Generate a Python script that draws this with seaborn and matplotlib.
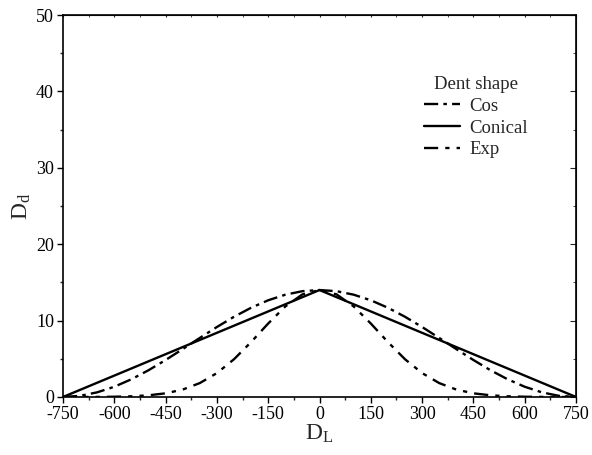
import numpy as np
import pandas as pd
import matplotlib
matplotlib.use("Agg")
import matplotlib.pyplot as plt
import seaborn as sns
from matplotlib.ticker import MultipleLocator

# ---- data ----
x_cos = [-750, -700, -650, -600, -550, -500, -450, -400, -350, -300, -250, -200, -150, -100, -50, 0,
         50, 100, 150, 200, 250, 300, 350, 400, 450, 500, 550, 600, 650, 700, 750]
y_cos = [0.0, 0.15, 0.61, 1.34, 2.32, 3.5, 4.84, 6.27, 7.73, 9.16, 10.5, 11.68, 12.66, 13.39, 13.85, 14.0,
         13.85, 13.39, 12.66, 11.68, 10.5, 9.16, 7.73, 6.27, 4.84, 3.5, 2.32, 1.34, 0.61, 0.15, 0.0]
x_con = [-750, 0, 750]
y_con = [0.0, 14.0, 0.0]
x_exp = x_cos
y_exp = [0.0, 0.0, 0.01, 0.035, 0.09, 0.22, 0.48, 0.97, 1.82, 3.13, 4.94, 7.19, 9.62, 11.85, 13.43, 14.0,
         13.43, 11.85, 9.62, 7.19, 4.94, 3.13, 1.82, 0.97, 0.48, 0.22, 0.09, 0.035, 0.01, 0.0, 0.0]
series_names = ["Cos", "Conical", "Exp"]
x_ticks = [-750, -600, -450, -300, -150, 0, 150, 300, 450, 600, 750]
y_ticks = [0, 10, 20, 30, 40, 50]

df = pd.concat([
    pd.DataFrame({"DL": x_cos, "Dd": y_cos, "shape": series_names[0]}),
    pd.DataFrame({"DL": x_con, "Dd": y_con, "shape": series_names[1]}),
    pd.DataFrame({"DL": x_exp, "Dd": y_exp, "shape": series_names[2]}),
])

sns.set_style("ticks")
plt.rcParams["font.family"] = ["Liberation Serif", "DejaVu Serif"]
plt.rcParams["mathtext.fontset"] = "custom"
plt.rcParams["mathtext.rm"] = "Liberation Serif"
plt.rcParams["mathtext.it"] = "Liberation Serif:italic"
plt.rcParams["axes.unicode_minus"] = False

fig = plt.figure(figsize=(5.92, 4.55), dpi=100)
ax = fig.add_axes([0.1064, 0.1275, 0.8666, 0.8395])

dashes = {"Cos": (6, 2.2, 1.5, 2.2), "Conical": "", "Exp": (6, 3, 1.8, 3, 1.8, 3)}
sns.lineplot(data=df, x="DL", y="Dd", hue="shape", style="shape",
             palette=["black"] * 3, dashes=dashes, linewidth=1.7,
             sort=False, estimator=None, ax=ax, legend=True)

ax.set_xlim(-750, 750)
ax.set_ylim(0, 50)
ax.set_xticks(x_ticks)
ax.set_yticks(y_ticks)
ax.xaxis.set_minor_locator(MultipleLocator(75))
ax.yaxis.set_minor_locator(MultipleLocator(5))
ax.tick_params(which="major", direction="out", length=4.5, width=1.0, labelsize=13,
               colors="black", pad=2)
ax.tick_params(which="minor", direction="out", length=2.5, width=1.0)
for s in ax.spines.values():
    s.set_visible(True)
    s.set_linewidth(1.2)
    s.set_color("black")

# inward ticks on top and right
axt = ax.secondary_xaxis("top")
axt.set_xticks(x_ticks)
axt.xaxis.set_minor_locator(MultipleLocator(75))
axt.tick_params(which="both", direction="in", length=1.5, labeltop=False)
axr = ax.secondary_yaxis("right")
axr.set_yticks(y_ticks)
axr.yaxis.set_minor_locator(MultipleLocator(5))
axr.tick_params(which="major", direction="in", length=4.5, labelright=False)
axr.tick_params(which="minor", direction="in", length=2.5, labelright=False)

ax.set_xlabel(r"$\mathregular{D_L}$", fontsize=17, labelpad=0)
ax.set_ylabel(r"$\mathregular{D_d}$", fontsize=17, labelpad=2)

leg = ax.legend(title="Dent shape", loc="upper left", bbox_to_anchor=(0.69, 0.86),
                frameon=False, fontsize=13.5, title_fontsize=13.5, handlelength=1.9,
                handletextpad=0.5, labelspacing=0.25, borderaxespad=0)

fig.savefig("out.png", dpi=100)
